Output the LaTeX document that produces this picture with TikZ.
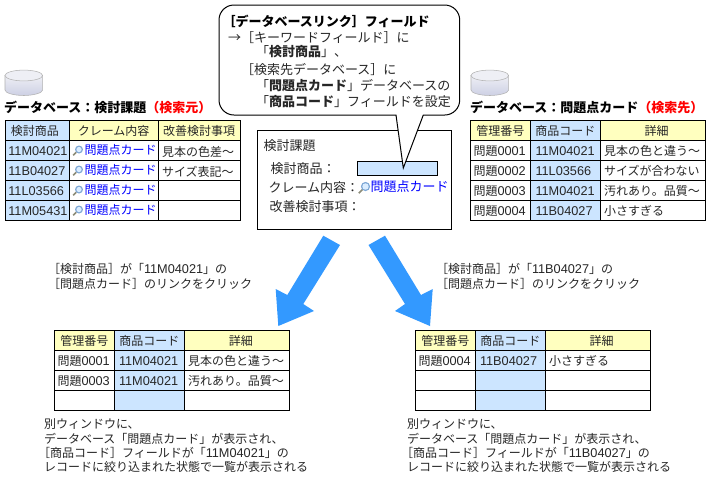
\documentclass[tikz,border=0pt]{standalone}
\usepackage{fontspec}
\setmainfont{Noto Sans CJK JP}
\newfontfamily\latf{Liberation Sans}
\newcommand{\nm}[1]{{\latf\fontsize{9.55pt}{12pt}\selectfont #1}}
\definecolor{hdy}{HTML}{FFFFBF}
\definecolor{hdb}{HTML}{CCE5FF}
\definecolor{arw}{HTML}{3399FF}
\definecolor{lnk}{HTML}{0000FF}
\definecolor{srcred}{HTML}{FF0000}
\definecolor{cyl}{HTML}{CDD0E4}
\definecolor{cylt}{HTML}{EEEFF5}
\definecolor{lens}{HTML}{7FA8D6}
\definecolor{handle}{HTML}{8C8C78}
\begin{document}
\begin{tikzpicture}[x=0.75pt,y=-0.75pt,line cap=butt,
  txt/.style={font=\fontsize{9pt}{11pt}\selectfont,inner sep=0pt,outer sep=0pt,text=black!85},
  lft/.style={txt,anchor=west},
  big/.style={lft,font=\fontsize{9.75pt}{11pt}\selectfont},
  ctr/.style={txt,anchor=center},
  ttl/.style={txt,anchor=west,font=\fontsize{9.75pt}{11pt}\bfseries\selectfont,text=black},
  grid/.style={draw=black,line width=0.75pt},
  bigarrow/.style={fill=arw,draw=none}]
\useasboundingbox (0,0) rectangle (710,480);
\fill[white] (0,0) rectangle (710,480);
% cylinders
\newcommand{\dbcyl}[2]{%
 \begin{scope}[shift={(#1,#2)}]
  \path[top color=cylt,bottom color=cyl,draw=black!30,line width=0.4pt] (0,5.5) -- (0,20) .. controls (0,23) and (9,25.5) .. (18.8,25.5) .. controls (28,25.5) and (37.6,23) .. (37.6,20) -- (37.6,5.5) -- cycle;
  \path[fill=cylt,draw=black!30,line width=0.4pt] (18.8,5.5) ellipse[x radius=18.8,y radius=5.4];
 \end{scope}}
\dbcyl{5}{70}
\dbcyl{471}{70}
% #1,#2 lens centre, #3 radius
\newcommand{\lensicon}[3]{%
  \fill[lens] (#1,#2) circle[radius=#3];
  \fill[hdb!70!white] (#1,#2) circle[radius=#3-1.4];
  \draw[line width=1.3pt,color=handle] (#1-0.7*#3,#2+0.7*#3)--(#1-1.45*#3,#2+1.45*#3);}
\node[ttl] (t1) at (4,107) {データベース：検討課題\textcolor{srcred}{（検索元）}};
\node[ttl] (t2) at (470,107) {データベース：問題点カード\textcolor{srcred}{（検索先）}};
\newcommand{\vlines}[6]{\draw[grid] (#1,#5) rectangle (#4,#6); \draw[grid] (#2,#5)--(#2,#6); \draw[grid] (#3,#5)--(#3,#6);}
\newcommand{\hlines}[5]{\foreach \yy in {#3,#4,#5}{\draw[grid] (#1,\yy)--(#2,\yy);}}
% Left table
\fill[hdb] (5.3,120.3) rectangle (69.3,220.5);
\fill[hdy] (69.3,120.3) rectangle (240.7,140.3);
\vlines{5.3}{69.3}{158.3}{240.7}{120.3}{220.5}
\hlines{5.3}{240.7}{140.3}{160.4}{180.4}
\draw[grid] (5.3,200.4)--(240.7,200.4);
\node[ctr] (a1) at (35,131) {検討商品};
\node[ctr] (a2) at (113.6,131) {クレーム内容};
\node[ctr] (a3) at (199.2,131) {改善検討事項};
\foreach \y/\s in {151/11M04021,171/11B04027,191/11L03566,211/11M05431}{
  \node[lft] at (8.3,\y) {\nm{\s}};
  \node[lft,text=lnk] at (84.5,\y-1) {問題点カード};
  \lensicon{79}{\y-1.5}{4}
}
\node[lft] at (162,152) {見本の色差～};
\node[lft] at (162,172) {サイズ表記～};
% Right table
\fill[hdy] (470.3,120.3) rectangle (530.3,140.3);
\fill[hdb] (530.3,120.3) rectangle (600.3,220.5);
\fill[hdy] (600.3,120.3) rectangle (705.3,140.3);
\vlines{470.3}{530.3}{600.3}{705.3}{120.3}{220.5}
\hlines{470.3}{705.3}{140.3}{160.4}{180.4}
\draw[grid] (470.3,200.4)--(705.3,200.4);
\node[ctr] (b1) at (500.3,131) {管理番号};
\node[ctr] (b2) at (565.3,131) {商品コード};
\node[ctr] (b3) at (656.7,131) {詳細};
\foreach \y/\a/\b/\c in {151/0001/11M04021/見本の色と違う～,171/0002/11L03566/サイズが合わない,191/0003/11M04021/汚れあり。品質～,211/0004/11B04027/小さすぎる}{
  \node[lft] at (473.5,\y) {問題\nm{\a}};
  \node[lft] at (535.5,\y) {\nm{\b}};
  \node[lft] at (604,\y) {\c};
}
% Center box
\draw[grid,fill=white] (257.3,130.3) rectangle (451.3,229.3);
\node[big] (c0) at (263.5,146) {検討課題};
\node[big] (c1) at (270.5,169) {検討商品：};
\node[big] (c2) at (268.5,187.5) {クレーム内容：};
\node[big] (c3) at (269.5,206.5) {改善検討事項：};
\draw[grid,fill=hdb] (357.3,161.3) rectangle (437.7,175.3);
\node[big,text=lnk] (c4) at (370.5,187) {問題点カード};
\lensicon{365.5}{186.5}{4.6}
% Callout
\draw[line width=0.75pt,fill=white]
  (234,5) -- (444.7,5) .. controls (453,5) and (459.7,11.7) .. (459.7,20)
  -- (459.7,100) .. controls (459.7,108.3) and (453,115) .. (444.7,115)
  -- (423.3,115) -- (403.3,168) -- (396,115)
  -- (234,115) .. controls (225.7,115) and (219,108.3) .. (219,100)
  -- (219,20) .. controls (219,11.7) and (225.7,5) .. (234,5) -- cycle;
\node[ttl] (d0) at (222.5,21) {［データベースリンク］フィールド};
\node[big] (d1) at (228,38) {→［キーワードフィールド］に};
\node[big] (d2) at (256,52) {「\textbf{検討商品}」、};
\node[big] (d3) at (241,69.5) {［検索先データベース］に};
\node[big] (d4) at (256,86) {「\textbf{問題点カード}」データベースの};
\node[big] (d5) at (256,102) {「\textbf{商品コード}」フィールドを設定};
% Big arrows
\fill[bigarrow] (323.3,235.7) -- (340,245) -- (303.3,304) -- (314,311) -- (278.3,326) -- (275.7,289) -- (287.3,295) -- cycle;
\fill[bigarrow] (385,235.7) -- (368.5,245) -- (405,304) -- (395,311) -- (430,326) -- (432.7,289) -- (421,295) -- cycle;
% Captions
\node[lft] (e1) at (48,269) {［検討商品］が「\nm{11M04021}」の};
\node[lft] (e1b) at (48,284) {［問題点カード］のリンクをクリック};
\node[lft] (e2) at (436,269) {［検討商品］が「\nm{11B04027}」の};
\node[lft] (e2b) at (436,284) {［問題点カード］のリンクをクリック};
% Bottom-left table
\fill[hdy] (54.3,330.3) rectangle (114.3,350.4);
\fill[hdb] (114.3,330.3) rectangle (184.3,410.3);
\fill[hdy] (184.3,330.3) rectangle (289.3,350.4);
\vlines{54.3}{114.3}{184.3}{289.3}{330.3}{410.3}
\hlines{54.3}{289.3}{350.4}{370.4}{390.4}
\node[ctr] at (84.3,341) {管理番号};
\node[ctr] at (149.3,341) {商品コード};
\node[ctr] at (240.8,341) {詳細};
\foreach \y/\a/\b/\c in {361/0001/11M04021/見本の色と違う～,381/0003/11M04021/汚れあり。品質～}{
  \node[lft] at (57.5,\y) {問題\nm{\a}};
  \node[lft] at (119,\y) {\nm{\b}};
  \node[lft] at (188,\y) {\c};
}
% Bottom-right table
\fill[hdy] (415.3,330.3) rectangle (475.3,350.4);
\fill[hdb] (475.3,330.3) rectangle (545.3,410.3);
\fill[hdy] (545.3,330.3) rectangle (650.3,350.4);
\vlines{415.3}{475.3}{545.3}{650.3}{330.3}{410.3}
\hlines{415.3}{650.3}{350.4}{370.4}{390.4}
\node[ctr] at (445.3,341) {管理番号};
\node[ctr] at (510.3,341) {商品コード};
\node[ctr] at (601.6,341) {詳細};
\node[lft] at (418.5,361) {問題\nm{0004}};
\node[lft] at (480,361) {\nm{11B04027}};
\node[lft] at (549,361) {小さすぎる};
% Notes
\foreach \xx/\code in {44/11M04021,407/11B04027}{
  \node[lft] at (\xx,424) {別ウィンドウに、};
  \node[lft] at (\xx,439) {データベース「問題点カード」が表示され、};
  \node[lft] at (\xx-6,453) {［商品コード］フィールドが「\nm{\code}」の};
  \node[lft] at (\xx,467) {レコードに絞り込まれた状態で一覧が表示される};
}
\end{tikzpicture}
\end{document}
